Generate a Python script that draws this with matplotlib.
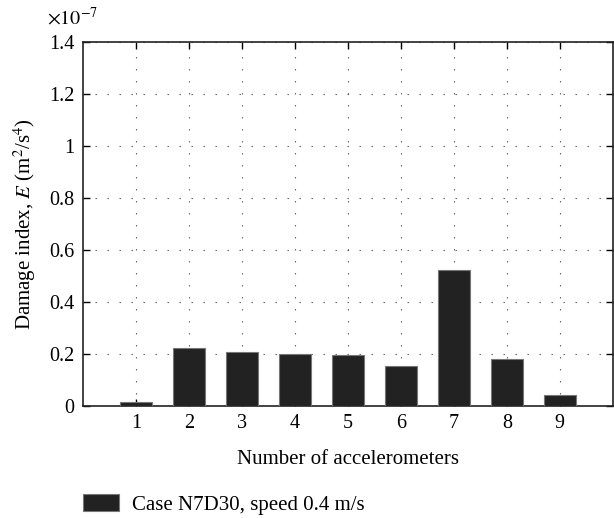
import matplotlib
matplotlib.use("Agg")
import matplotlib.pyplot as plt
from matplotlib.ticker import FuncFormatter, MultipleLocator

plt.rcParams["font.family"] = ["Liberation Serif", "DejaVu Serif"]
plt.rcParams["mathtext.fontset"] = "stix"

accelerometers = [1, 2, 3, 4, 5, 6, 7, 8, 9]
damage_index = [0.016e-7, 0.225e-7, 0.208e-7, 0.199e-7, 0.195e-7,
                0.153e-7, 0.522e-7, 0.181e-7, 0.043e-7]
series_label = "Case N7D30, speed 0.4 m/s"
scale = 1e-7

fig = plt.figure(figsize=(6.14, 5.18), dpi=100)
ax = fig.add_axes([0.135, 0.216, 0.863, 0.703])

bars = ax.bar(accelerometers, damage_index, width=0.6, color="#222222",
              edgecolor="#777777", linewidth=0.8, zorder=3, label=series_label)

ax.set_xlim(0, 10)
ax.set_ylim(0, 1.4e-7)
ax.set_xticks(accelerometers)
ax.yaxis.set_major_locator(MultipleLocator(0.2e-7))
ax.yaxis.set_major_formatter(FuncFormatter(lambda v, p: "%g" % round(v / scale, 6)))

ax.grid(True, linestyle=(0, (1.3, 9.5)), color="#666666", linewidth=0.8, zorder=0)
ax.tick_params(direction="in", top=True, right=True, length=5, width=1,
               labelsize=14.5, pad=6)
for s in ax.spines.values():
    s.set_linewidth(1.2)
    s.set_color("#222222")

ax.text(-0.068, 1.035, r"$\times 10^{-7}$", transform=ax.transAxes,
        fontsize=14.5, ha="left", va="bottom")

ax.set_xlabel("Number of accelerometers", fontsize=15, labelpad=12)
ax.set_ylabel(r"Damage index, $E$ (m$^2$/s$^4$)", fontsize=15, labelpad=8)

fig.legend(handles=[bars], labels=[series_label], loc="lower left",
           bbox_to_anchor=(0.135, 0.006), frameon=False, fontsize=15,
           borderpad=0, borderaxespad=0,
           handlelength=1.73, handleheight=0.85, handletextpad=0.63)

fig.savefig("out.png", dpi=100)
